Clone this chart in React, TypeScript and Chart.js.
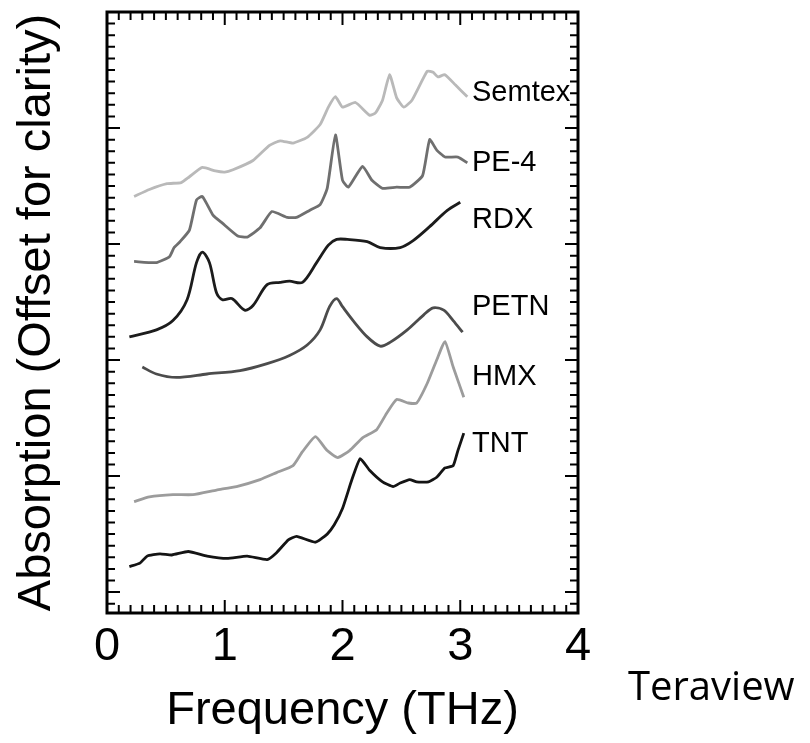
import React, { useEffect, useRef } from 'react';
import { Chart, registerables } from 'chart.js';

Chart.register(...registerables);

const FONT = '"Liberation Sans", Arial, Helvetica, sans-serif';

// x axis (Frequency, THz)
const xTickValues = [0, 1, 2, 3, 4];
const xTickLabels = ['0', '1', '2', '3', '4'];

const semtexX = [0.23, 0.36, 0.51, 0.63, 0.70, 0.81, 0.92, 1.00, 1.07, 1.24, 1.38, 1.47, 1.58, 1.70, 1.81, 1.88, 1.94, 2.00, 2.11, 2.23, 2.28, 2.34, 2.40, 2.46, 2.52, 2.59, 2.72, 2.77, 2.81, 2.87, 2.96, 3.06];
const semtexY = [3.41, 3.47, 3.52, 3.53, 3.58, 3.66, 3.63, 3.62, 3.64, 3.72, 3.85, 3.89, 3.87, 3.92, 4.03, 4.18, 4.27, 4.18, 4.22, 4.11, 4.13, 4.24, 4.46, 4.26, 4.18, 4.24, 4.49, 4.48, 4.44, 4.46, 4.37, 4.27];

const pe4X = [0.23, 0.42, 0.53, 0.57, 0.62, 0.70, 0.76, 0.81, 0.90, 0.98, 1.11, 1.19, 1.30, 1.40, 1.53, 1.61, 1.72, 1.81, 1.87, 1.94, 2.00, 2.05, 2.17, 2.25, 2.34, 2.46, 2.57, 2.68, 2.74, 2.80, 2.87, 2.98, 3.06];
const pe4Y = [2.85, 2.84, 2.89, 2.97, 3.02, 3.12, 3.38, 3.41, 3.25, 3.18, 3.07, 3.06, 3.14, 3.28, 3.23, 3.23, 3.29, 3.34, 3.48, 3.94, 3.55, 3.49, 3.67, 3.55, 3.48, 3.49, 3.49, 3.59, 3.90, 3.81, 3.75, 3.75, 3.70];

const rdxX = [0.19, 0.42, 0.56, 0.68, 0.76, 0.81, 0.87, 0.93, 0.98, 1.06, 1.17, 1.24, 1.36, 1.47, 1.55, 1.66, 1.78, 1.88, 1.95, 2.04, 2.21, 2.32, 2.49, 2.60, 2.74, 2.89, 3.00];
const rdxY = [2.20, 2.26, 2.34, 2.52, 2.84, 2.93, 2.84, 2.58, 2.52, 2.53, 2.43, 2.47, 2.65, 2.67, 2.68, 2.67, 2.84, 2.99, 3.04, 3.04, 3.02, 2.97, 2.97, 3.03, 3.15, 3.29, 3.36];

const petnX = [0.30, 0.42, 0.59, 0.85, 1.13, 1.36, 1.55, 1.70, 1.81, 1.89, 1.95, 2.00, 2.09, 2.21, 2.32, 2.40, 2.55, 2.69, 2.77, 2.86, 2.94, 3.02];
const petnY = [1.94, 1.88, 1.85, 1.88, 1.91, 1.97, 2.04, 2.13, 2.26, 2.46, 2.53, 2.46, 2.34, 2.20, 2.12, 2.15, 2.26, 2.39, 2.45, 2.43, 2.34, 2.24];

const hmxX = [0.23, 0.36, 0.56, 0.73, 0.93, 1.10, 1.30, 1.44, 1.58, 1.66, 1.77, 1.87, 1.96, 2.06, 2.17, 2.29, 2.38, 2.46, 2.56, 2.63, 2.72, 2.80, 2.87, 2.94, 3.03];
const hmxY = [0.78, 0.82, 0.84, 0.84, 0.88, 0.91, 0.97, 1.03, 1.09, 1.21, 1.34, 1.22, 1.16, 1.22, 1.33, 1.40, 1.55, 1.66, 1.63, 1.63, 1.80, 2.00, 2.16, 1.94, 1.68];

const tntX = [0.19, 0.28, 0.34, 0.45, 0.55, 0.69, 0.85, 1.02, 1.19, 1.36, 1.44, 1.54, 1.61, 1.77, 1.87, 1.93, 2.00, 2.08, 2.15, 2.23, 2.34, 2.43, 2.49, 2.57, 2.63, 2.73, 2.80, 2.87, 2.94, 2.98, 3.03];
const tntY = [0.22, 0.25, 0.31, 0.33, 0.32, 0.35, 0.31, 0.29, 0.31, 0.28, 0.34, 0.45, 0.48, 0.43, 0.50, 0.58, 0.72, 0.97, 1.15, 1.05, 0.95, 0.91, 0.94, 0.97, 0.95, 0.95, 0.99, 1.07, 1.09, 1.22, 1.37];

const seriesNames = ['Semtex', 'PE-4', 'RDX', 'PETN', 'HMX', 'TNT'];
const seriesColors = ['#b9b9b9', '#6f6f6f', '#1c1c1c', '#4c4c4c', '#9c9c9c', '#141414'];
const seriesTension = [0.15, 0.15, 0.3, 0.3, 0.15, 0.15];
const labelX = 3.1;
const labelY = [4.30, 3.70, 3.21, 2.46, 1.85, 1.28];

const framePlugin = {
  id: 'frameAndLabels',
  afterDraw(chart: any) {
    const { ctx, chartArea: a, scales } = chart;
    const xs = scales.x;
    const ys = scales.y;
    ctx.save();
    ctx.strokeStyle = '#000';
    // ticks
    ctx.lineWidth = 2;
    ctx.beginPath();
    for (let i = 0; i <= 40; i++) {
      const px = xs.getPixelForValue(i / 10);
      const len = i % 10 === 0 ? 13 : 8;
      ctx.moveTo(px, a.bottom);
      ctx.lineTo(px, a.bottom - len);
      ctx.moveTo(px, a.top);
      ctx.lineTo(px, a.top + len);
    }
    for (let i = -1; i <= 50; i++) {
      const v = i / 10;
      if (v < ys.min || v > ys.max) continue;
      const py = ys.getPixelForValue(v);
      const len = i % 10 === 0 ? 13 : 8;
      ctx.moveTo(a.left, py);
      ctx.lineTo(a.left + len, py);
      ctx.moveTo(a.right, py);
      ctx.lineTo(a.right - len, py);
    }
    ctx.stroke();
    // frame
    ctx.lineWidth = 3;
    ctx.strokeRect(a.left, a.top, a.right - a.left, a.bottom - a.top);
    // series labels
    ctx.fillStyle = '#000';
    ctx.font = `29px ${FONT}`;
    ctx.textAlign = 'left';
    ctx.textBaseline = 'middle';
    seriesNames.forEach((name, i) => {
      ctx.fillText(name, xs.getPixelForValue(labelX), ys.getPixelForValue(labelY[i]));
    });
    // source note
    ctx.font = '40px "Open Sans", "Noto Sans", sans-serif';
    ctx.textBaseline = 'alphabetic';
    ctx.fillText('Teraview', a.right + 50, 700);
    ctx.restore();
  },
};

export default function App() {
  const ref = useRef<HTMLCanvasElement>(null);
  useEffect(() => {
    const xsAll = [semtexX, pe4X, rdxX, petnX, hmxX, tntX];
    const ysAll = [semtexY, pe4Y, rdxY, petnY, hmxY, tntY];
    const chart = new Chart(ref.current as HTMLCanvasElement, {
      type: 'line',
      data: {
        datasets: seriesNames.map((name, i) => ({
          label: name,
          data: xsAll[i].map((x, j) => ({ x, y: ysAll[i][j] })),
          borderColor: seriesColors[i],
          borderWidth: 2.8,
          pointRadius: 0,
          tension: seriesTension[i],
          fill: false,
        })),
      },
      options: {
        animation: false,
        responsive: true,
        maintainAspectRatio: false,
        layout: { padding: { left: 0, top: 12, right: 232, bottom: 0 } },
        plugins: { legend: { display: false }, tooltip: { enabled: false } },
        scales: {
          x: {
            type: 'linear',
            min: 0,
            max: 4,
            position: 'bottom',
            grid: { display: false, drawTicks: false },
            border: { display: false },
            afterBuildTicks: (s: any) => {
              s.ticks = xTickValues.map((v) => ({ value: v }));
            },
            ticks: {
              padding: 6,
              autoSkip: false,
              maxRotation: 0,
              color: '#000',
              font: { family: FONT, size: 47 },
              callback: (v: any) => xTickLabels[xTickValues.indexOf(Number(v))] ?? '',
            },
            title: {
              display: true,
              text: 'Frequency (THz)',
              color: '#000',
              font: { family: FONT, size: 47 },
              padding: { top: 0, bottom: 4 },
            },
            afterFit: (s: any) => {
              s.height = 130;
            },
          },
          y: {
            type: 'linear',
            min: -0.18,
            max: 5,
            grid: { display: false, drawTicks: false },
            border: { display: false },
            ticks: { display: false },
            title: {
              display: true,
              text: 'Absorption (Offset for clarity)',
              color: '#000',
              font: { family: FONT, size: 47 },
              padding: { top: 9, bottom: 0 },
            },
            afterFit: (s: any) => {
              s.width = 107;
            },
          },
        },
      } as any,
      plugins: [framePlugin],
    });
    return () => chart.destroy();
  }, []);
  return (
    <div style={{ position: 'fixed', left: 0, top: 0, width: 810, height: 743, background: '#fff' }}>
      <canvas ref={ref} />
    </div>
  );
}
